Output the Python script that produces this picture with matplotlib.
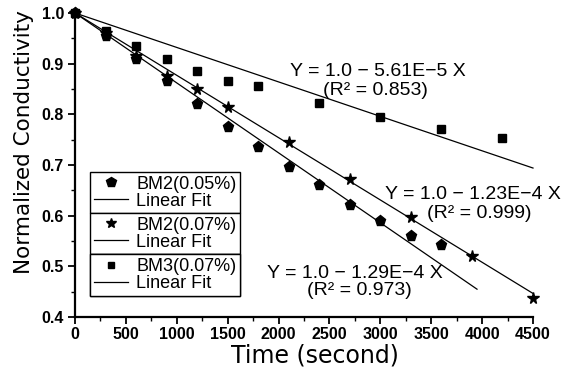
import numpy as np
import matplotlib
matplotlib.use('Agg')
from matplotlib import pyplot as plt
from matplotlib.lines import Line2D
from matplotlib.ticker import MultipleLocator

plt.rcParams['font.family'] = ['Liberation Sans', 'DejaVu Sans']

# data
t_bm2_05 = [0, 300, 600, 900, 1200, 1500, 1800, 2100, 2400, 2700, 3000, 3300, 3600]
c_bm2_05 = [1.0, 0.955, 0.91, 0.865, 0.82, 0.775, 0.735, 0.697, 0.66, 0.622, 0.59, 0.56, 0.543]

t_bm2_07 = [0, 300, 600, 900, 1200, 1500, 2100, 2700, 3300, 3900, 4500]
c_bm2_07 = [1.0, 0.96, 0.915, 0.875, 0.85, 0.815, 0.745, 0.672, 0.598, 0.52, 0.437]

t_bm3_07 = [0, 300, 600, 900, 1200, 1500, 1800, 2400, 3000, 3600, 4200]
c_bm3_07 = [1.0, 0.965, 0.935, 0.91, 0.885, 0.865, 0.855, 0.822, 0.795, 0.772, 0.753]

series_names = ['BM2(0.05%)', 'BM2(0.07%)', 'BM3(0.07%)']
# slopes of the drawn fit lines (as they appear) and where they stop
fit_slopes = [1.38e-4, 1.23e-4, 6.8e-5]
fit_end = [3950, 4500, 4500]
eq_text = ['Y = 1.0 \u2212 1.29E\u22124 X', 'Y = 1.0 \u2212 1.23E\u22124 X', 'Y = 1.0 \u2212 5.61E\u22125 X']
r2_text = ['(R\u00b2 = 0.973)', '(R\u00b2 = 0.999)', '(R\u00b2 = 0.853)']
eq_pos = [(2750, 0.485), (3910, 0.641), (2977, 0.884)]
r2_pos = [(2790, 0.453), (3970, 0.605), (2950, 0.848)]

markers = ['p', '*', 's']
msizes = [8, 8.5, 6]

fig = plt.figure(figsize=(5.72, 3.68), dpi=100)
ax = fig.add_axes([0.1311, 0.1386, 0.8007, 0.8261])

xs = [t_bm2_05, t_bm2_07, t_bm3_07]
ys = [c_bm2_05, c_bm2_07, c_bm3_07]
for i in range(3):
    ax.plot(xs[i], ys[i], linestyle='none', marker=markers[i], ms=msizes[i],
            color='black', clip_on=False, zorder=3)
    xf = np.array([0, fit_end[i]])
    ax.plot(xf, 1.0 - fit_slopes[i] * xf, color='black', lw=0.9, clip_on=False)
    ax.text(eq_pos[i][0], eq_pos[i][1], eq_text[i], ha='center', va='center', fontsize=14)
    ax.text(r2_pos[i][0], r2_pos[i][1], r2_text[i], ha='center', va='center', fontsize=14)

ax.set_xlim(0, 4500)
ax.set_ylim(0.4, 1.0)
ax.xaxis.set_major_locator(MultipleLocator(500))
ax.xaxis.set_minor_locator(MultipleLocator(250))
ax.yaxis.set_major_locator(MultipleLocator(0.1))
ax.yaxis.set_minor_locator(MultipleLocator(0.05))
ax.yaxis.set_major_formatter(plt.FormatStrFormatter('%.1f'))
ax.tick_params(which='major', length=5, width=1.3, labelsize=11.5, pad=3)
ax.tick_params(axis='x', which='major', pad=2.5)
ax.tick_params(which='minor', length=3, width=1.0)
for lab in ax.get_xticklabels() + ax.get_yticklabels():
    lab.set_fontweight('bold')
for s in ['top', 'right']:
    ax.spines[s].set_visible(False)
for s in ['left', 'bottom']:
    ax.spines[s].set_linewidth(1.6)

ax.set_xlabel('Time (second)', fontsize=17, va='center', family='DejaVu Sans')
ax.set_ylabel('Normalized Conductivity', fontsize=15.5, va='center', family='DejaVu Sans')
ax.xaxis.set_label_coords(0.524, -0.126)
ax.yaxis.set_label_coords(-0.112, 0.576)

# three stacked legend boxes
top = 0.477
for i in range(3):
    h = [Line2D([], [], ls='none', marker=markers[i], ms=msizes[i] - 1, color='black'),
         Line2D([], [], color='black', lw=0.9)]
    leg = ax.legend(h, [series_names[i], 'Linear Fit'], loc='upper left',
                    bbox_to_anchor=(0.033, top), borderaxespad=0, fontsize=13,
                    labelspacing=0.0, handlelength=1.9, handletextpad=0.45,
                    borderpad=0.2, fancybox=False, framealpha=1, edgecolor='black')
    leg.get_frame().set_linewidth(1.0)
    ax.add_artist(leg)
    fig.canvas.draw()
    bb = leg.get_window_extent().transformed(ax.transAxes.inverted())
    top = bb.y0

fig.savefig('out.png', dpi=100)
